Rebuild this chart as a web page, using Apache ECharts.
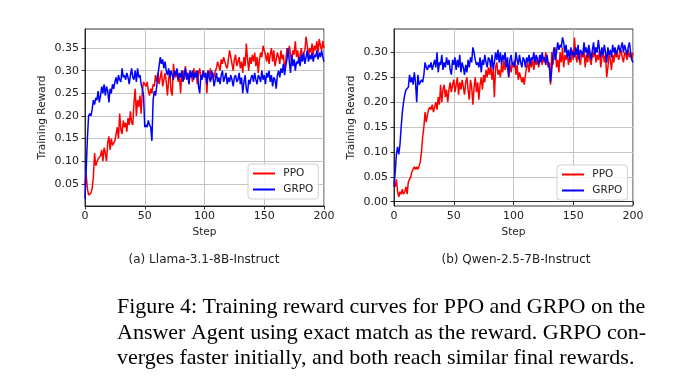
<!DOCTYPE html>
<html>
<head>
<meta charset="utf-8">
<script src="https://cdn.jsdelivr.net/npm/echarts@6/dist/echarts.min.js"></script>
<style>
html,body{margin:0;padding:0;background:#fff;}
#chart{width:678px;height:388px;}
</style>
</head>
<body>
<div id="chart"></div>
<script>
// ---------- data ----------
const steps = Array.from({length: 201}, (_, i) => i);

const llamaPPO = [
0.050,0.070,0.040,0.025,0.022,0.030,0.040,0.065,0.118,0.090,
0.098,0.105,0.108,0.112,0.125,0.100,0.130,0.118,0.100,0.140,
0.155,0.125,0.150,0.135,0.140,0.145,0.160,0.175,0.150,0.205,
0.170,0.160,0.190,0.175,0.185,0.165,0.195,0.180,0.210,0.185,
0.180,0.230,0.260,0.200,0.235,0.220,0.245,0.205,0.255,0.275,
0.270,0.265,0.275,0.255,0.245,0.260,0.250,0.270,0.265,0.290,
0.275,0.295,0.270,0.285,0.300,0.265,0.280,0.295,0.275,0.245,
0.280,0.300,0.255,0.245,0.315,0.290,0.285,0.300,0.275,0.290,
0.250,0.295,0.300,0.280,0.310,0.285,0.295,0.270,0.300,0.290,
0.275,0.305,0.285,0.300,0.270,0.295,0.305,0.280,0.290,0.300,
0.285,0.295,0.250,0.300,0.290,0.305,0.280,0.295,0.285,0.300,
0.305,0.320,0.310,0.300,0.325,0.315,0.330,0.320,0.310,0.305,
0.325,0.345,0.330,0.315,0.300,0.325,0.335,0.310,0.320,0.330,
0.305,0.320,0.295,0.330,0.310,0.360,0.325,0.300,0.330,0.315,
0.335,0.320,0.340,0.310,0.330,0.295,0.325,0.340,0.330,0.355,
0.345,0.335,0.320,0.340,0.315,0.335,0.350,0.320,0.345,0.310,
0.325,0.340,0.330,0.315,0.345,0.325,0.335,0.305,0.320,0.350,
0.330,0.355,0.335,0.320,0.345,0.335,0.365,0.330,0.345,0.320,
0.335,0.350,0.325,0.340,0.345,0.375,0.355,0.330,0.350,0.340,
0.360,0.335,0.355,0.345,0.365,0.340,0.370,0.355,0.345,0.365,
0.350];

const llamaGRPO = [
0.017,0.080,0.150,0.200,0.205,0.200,0.215,0.235,0.225,0.240,
0.235,0.255,0.230,0.245,0.265,0.250,0.270,0.245,0.265,0.255,
0.230,0.260,0.250,0.270,0.260,0.275,0.285,0.270,0.290,0.280,
0.275,0.305,0.285,0.290,0.280,0.295,0.285,0.270,0.290,0.305,
0.285,0.280,0.300,0.275,0.305,0.285,0.290,0.270,0.260,0.245,
0.175,0.180,0.175,0.190,0.180,0.175,0.145,0.235,0.255,0.245,
0.265,0.290,0.310,0.330,0.315,0.325,0.305,0.320,0.300,0.290,
0.305,0.285,0.300,0.290,0.280,0.300,0.290,0.305,0.280,0.295,
0.285,0.300,0.275,0.290,0.305,0.280,0.295,0.270,0.300,0.285,
0.300,0.280,0.295,0.285,0.300,0.265,0.250,0.290,0.280,0.300,
0.285,0.295,0.270,0.300,0.285,0.275,0.300,0.290,0.265,0.280,
0.295,0.275,0.285,0.270,0.290,0.300,0.275,0.285,0.295,0.270,
0.285,0.275,0.290,0.280,0.265,0.285,0.290,0.275,0.280,0.295,
0.270,0.285,0.250,0.275,0.290,0.260,0.250,0.280,0.270,0.285,
0.290,0.275,0.295,0.280,0.270,0.290,0.285,0.275,0.300,0.280,
0.290,0.270,0.295,0.285,0.300,0.275,0.290,0.265,0.285,0.280,
0.260,0.290,0.300,0.285,0.305,0.295,0.315,0.290,0.310,0.325,
0.350,0.320,0.295,0.335,0.310,0.325,0.300,0.320,0.315,0.330,
0.310,0.335,0.320,0.340,0.315,0.330,0.345,0.320,0.335,0.325,
0.340,0.320,0.335,0.330,0.345,0.325,0.340,0.330,0.345,0.330,
0.320];

const qwenPPO = [
0.040,0.030,0.045,0.020,0.010,0.020,0.015,0.025,0.015,0.020,
0.030,0.015,0.040,0.045,0.050,0.060,0.065,0.070,0.065,0.070,
0.065,0.072,0.080,0.100,0.130,0.150,0.180,0.160,0.175,0.185,
0.190,0.185,0.195,0.180,0.190,0.200,0.185,0.210,0.195,0.235,
0.200,0.225,0.235,0.210,0.225,0.200,0.225,0.240,0.220,0.235,
0.245,0.220,0.235,0.250,0.215,0.240,0.225,0.245,0.230,0.215,
0.240,0.250,0.225,0.205,0.245,0.230,0.195,0.230,0.250,0.220,
0.240,0.205,0.235,0.250,0.225,0.255,0.240,0.265,0.250,0.270,
0.255,0.275,0.245,0.265,0.210,0.270,0.280,0.255,0.265,0.250,
0.275,0.260,0.285,0.265,0.280,0.270,0.250,0.275,0.260,0.280,
0.270,0.285,0.255,0.275,0.245,0.260,0.250,0.240,0.250,0.235,
0.255,0.270,0.280,0.260,0.285,0.270,0.290,0.265,0.285,0.275,
0.290,0.270,0.285,0.295,0.275,0.290,0.280,0.300,0.285,0.270,
0.280,0.235,0.300,0.275,0.295,0.310,0.270,0.285,0.260,0.300,
0.280,0.310,0.270,0.295,0.285,0.300,0.275,0.290,0.280,0.305,
0.285,0.330,0.295,0.280,0.300,0.285,0.275,0.300,0.290,0.305,
0.270,0.295,0.280,0.305,0.285,0.275,0.300,0.290,0.310,0.280,
0.295,0.285,0.305,0.270,0.290,0.300,0.280,0.295,0.250,0.270,
0.300,0.285,0.265,0.295,0.280,0.305,0.290,0.300,0.285,0.295,
0.305,0.290,0.280,0.300,0.295,0.285,0.305,0.290,0.300,0.285,
0.300];

const qwenGRPO = [
0.030,0.060,0.095,0.110,0.095,0.115,0.150,0.180,0.200,0.215,
0.225,0.225,0.230,0.255,0.240,0.250,0.235,0.260,0.240,0.200,
0.255,0.235,0.240,0.245,0.240,0.255,0.280,0.270,0.265,0.275,
0.270,0.280,0.265,0.275,0.285,0.270,0.300,0.260,0.280,0.275,
0.295,0.265,0.280,0.270,0.290,0.275,0.285,0.265,0.255,0.285,
0.275,0.290,0.265,0.285,0.270,0.295,0.260,0.280,0.270,0.255,
0.275,0.260,0.285,0.270,0.290,0.280,0.310,0.300,0.285,0.275,
0.280,0.270,0.290,0.260,0.285,0.275,0.295,0.280,0.270,0.290,
0.285,0.270,0.295,0.265,0.280,0.300,0.285,0.305,0.280,0.300,
0.275,0.295,0.285,0.300,0.270,0.290,0.250,0.285,0.295,0.275,
0.280,0.270,0.300,0.285,0.275,0.295,0.280,0.270,0.290,0.285,
0.270,0.290,0.280,0.295,0.275,0.290,0.285,0.300,0.280,0.295,
0.285,0.275,0.295,0.280,0.300,0.285,0.290,0.275,0.295,0.280,
0.270,0.240,0.265,0.295,0.310,0.285,0.300,0.320,0.305,0.315,
0.310,0.330,0.320,0.300,0.315,0.290,0.305,0.285,0.310,0.295,
0.300,0.290,0.310,0.295,0.315,0.285,0.305,0.300,0.295,0.320,
0.300,0.310,0.290,0.315,0.300,0.285,0.305,0.320,0.295,0.310,
0.300,0.325,0.305,0.290,0.310,0.295,0.315,0.300,0.280,0.310,
0.295,0.305,0.290,0.315,0.300,0.310,0.295,0.305,0.315,0.300,
0.310,0.320,0.300,0.315,0.305,0.295,0.310,0.320,0.300,0.285,
0.280];

const xTicks = [0, 50, 100, 150, 200];
const llamaYTicks = [0.05, 0.10, 0.15, 0.20, 0.25, 0.30, 0.35];
const qwenYTicks = [0.00, 0.05, 0.10, 0.15, 0.20, 0.25, 0.30];
const seriesNames = ['PPO', 'GRPO'];
const seriesColors = ['#ff0000', '#0000ff'];
const panelTitles = ['(a) Llama-3.1-8B-Instruct', '(b) Qwen-2.5-7B-Instruct'];
const captionLines = [
  'Figure 4: Training reward curves for PPO and GRPO on the',
  'Answer Agent using exact match as the reward. GRPO con-',
  'verges faster initially, and both reach similar final rewards.'
];

// ---------- chart ----------
const FONT = 'DejaVu Sans';
const pair = (vals) => steps.map((s, i) => [s, vals[i]]);

function xAxis(gridIndex) {
  return {
    type: 'value', gridIndex, min: xTicks[0], max: xTicks[xTicks.length - 1], interval: 50,
    name: 'Step', nameLocation: 'middle', nameGap: 21,
    nameTextStyle: {fontFamily: FONT, fontSize: 10.5, color: '#222'},
    axisLine: {show: true, lineStyle: {color: '#000', width: 0.8}},
    axisTick: {show: true, inside: false, length: 3.5, lineStyle: {color: '#000', width: 0.8}},
    axisLabel: {fontFamily: FONT, fontSize: 11, color: '#222', margin: 5},
    splitLine: {show: true, lineStyle: {color: '#c4c4c4', width: 1}}
  };
}
function yAxis(gridIndex, min, max, ticks) {
  return {
    type: 'value', gridIndex, min, max,
    name: 'Training Reward', nameLocation: 'middle', nameGap: 37, nameRotate: 90,
    nameTextStyle: {fontFamily: FONT, fontSize: 10.5, color: '#222'},
    axisLine: {show: true, lineStyle: {color: '#000', width: 0.8}},
    axisTick: {show: true, inside: false, length: 3.5, customValues: ticks, lineStyle: {color: '#000', width: 0.8}},
    axisLabel: {fontFamily: FONT, fontSize: 11, color: '#222', margin: 6, customValues: ticks,
      formatter: (v) => Number(v).toFixed(2)},
    splitLine: {show: true, lineStyle: {color: '#c4c4c4', width: 1}}
  };
}
function legend(left, top) {
  return {
    left, top, orient: 'vertical', data: seriesNames,
    icon: 'rect', itemWidth: 22, itemHeight: 2, itemGap: 5,
    padding: [4, 5, 4, 5],
    borderColor: '#d0d0d0', borderWidth: 1, borderRadius: 3,
    backgroundColor: 'rgba(255,255,255,0.85)',
    textStyle: {fontFamily: FONT, fontSize: 10.5, color: '#222'},
    formatter: (n) => ' ' + n,
    selectedMode: false
  };
}
function line(name, data, xi, color) {
  return {
    type: 'line', name, data, xAxisIndex: xi, yAxisIndex: xi,
    showSymbol: false, symbol: 'none', smooth: false,
    lineStyle: {color, width: 1.5}, itemStyle: {color},
    emphasis: {disabled: true}, z: 2
  };
}

const graphics = [];
panelTitles.forEach((t, i) => {
  graphics.push({type: 'text', x: [204, 516][i], y: 260,
    style: {text: t, fontFamily: FONT, fontSize: 12, fill: '#222', align: 'center', verticalAlign: 'middle'}});
});
captionLines.forEach((t, i) => {
  graphics.push({type: 'text', x: 117, y: 307.5 + i * 25.5,
    style: {text: t, fontFamily: 'Liberation Serif', fontSize: 22, fill: '#000', align: 'left', verticalAlign: 'middle'}});
});

const option = {
  animation: false,
  backgroundColor: '#fff',
  grid: [
    {left: 85, top: 29, width: 239, height: 177, show: true, borderColor: '#000', borderWidth: 0.8, containLabel: false},
    {left: 394, top: 29, width: 239, height: 177, show: true, borderColor: '#000', borderWidth: 0.8, containLabel: false}
  ],
  xAxis: [xAxis(0), xAxis(1)],
  yAxis: [yAxis(0, 0.001, 0.392, llamaYTicks), yAxis(1, -0.0086, 0.347, qwenYTicks)],
  legend: [legend(248, 164), legend(557, 165)],
  series: [
    line(seriesNames[0], pair(llamaPPO), 0, seriesColors[0]),
    line(seriesNames[1], pair(llamaGRPO), 0, seriesColors[1]),
    line(seriesNames[0], pair(qwenPPO), 1, seriesColors[0]),
    line(seriesNames[1], pair(qwenGRPO), 1, seriesColors[1])
  ],
  graphic: graphics
};

const chart = echarts.init(document.getElementById('chart'), null, {renderer: 'canvas'});
chart.setOption(option);
</script>
</body>
</html>
